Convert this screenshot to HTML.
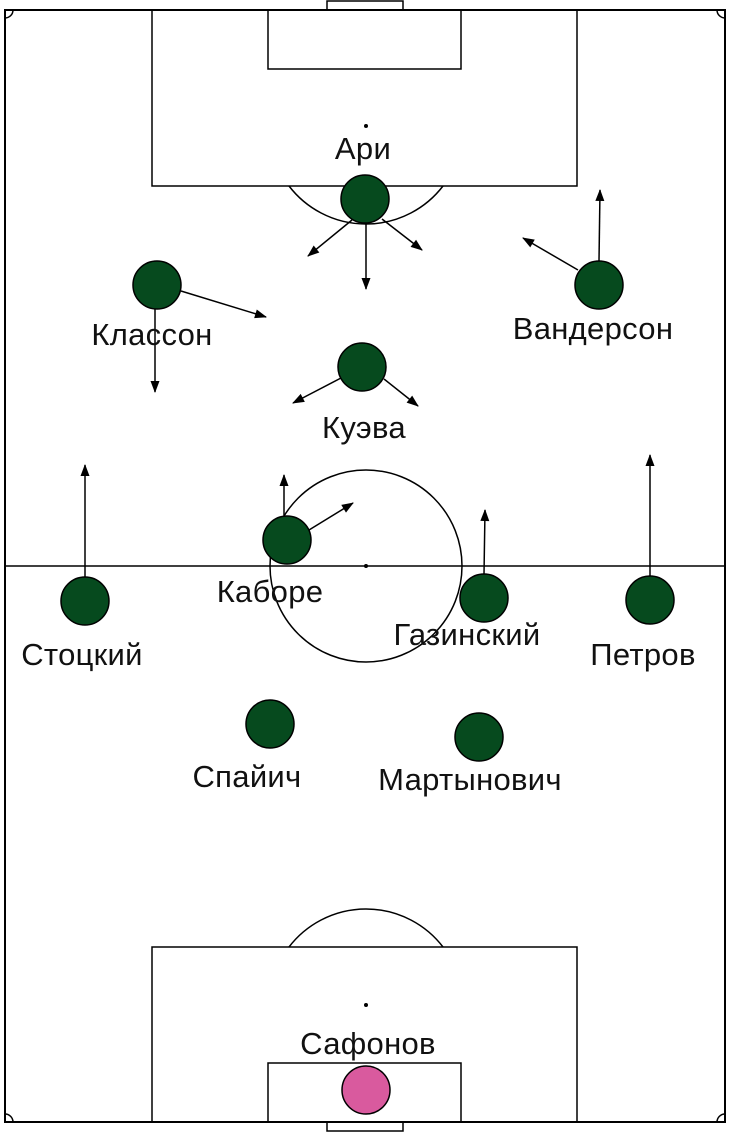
<!DOCTYPE html>
<html><head><meta charset="utf-8"><style>
html,body{margin:0;padding:0;background:#fff;}
svg{display:block;}
text{font-family:"Liberation Sans","DejaVu Sans",sans-serif;font-size:31px;fill:#111;text-anchor:middle;letter-spacing:0.3px;}
</style></head><body>
<svg width="730" height="1132" viewBox="0 0 730 1132" xmlns="http://www.w3.org/2000/svg">
<defs>
<marker id="b" viewBox="0 0 12 10" refX="11" refY="5" markerWidth="13" markerHeight="10" orient="auto" markerUnits="userSpaceOnUse"><path d="M0,0.5L12,5L0,9.5z" fill="#000"/></marker></defs>
<g fill="none" stroke="#000" stroke-width="1.5">
<rect x="5" y="10" width="720" height="1112" stroke-width="2"/>
<rect x="327" y="1" width="76" height="9"/>
<rect x="327" y="1122" width="76" height="9"/>
<rect x="152" y="10" width="425" height="176"/>
<rect x="268" y="10" width="193" height="59"/>
<rect x="152" y="947" width="425" height="175"/>
<rect x="268" y="1063" width="193" height="59"/>
<path d="M289,186 A97,97 0 0 0 443,186"/>
<path d="M289,947 A97,97 0 0 1 443,947"/>
<line x1="5" y1="566" x2="725" y2="566"/>
<circle cx="366" cy="566" r="96"/>
<path d="M5,18 A8,8 0 0 0 13,10"/><path d="M717,10 A8,8 0 0 0 725,18"/>
<path d="M5,1114 A8,8 0 0 1 13,1122"/><path d="M717,1122 A8,8 0 0 1 725,1114"/>
</g>
<circle cx="366" cy="126" r="2" fill="#000"/>
<circle cx="366" cy="1005" r="2" fill="#000"/>
<circle cx="366" cy="566" r="2" fill="#000"/>
<g stroke="#000" stroke-width="1.5" marker-end="url(#b)">
<line x1="352" y1="220" x2="308" y2="256"/>
<line x1="366" y1="224" x2="366" y2="289"/>
<line x1="382" y1="219" x2="422" y2="250"/>
<line x1="599" y1="261" x2="600" y2="190"/>
<line x1="578" y1="270" x2="523" y2="238"/>
<line x1="181" y1="291" x2="266" y2="317"/>
<line x1="155" y1="309" x2="155" y2="392"/>
<line x1="341" y1="378" x2="293" y2="403"/>
<line x1="384" y1="379" x2="418" y2="406"/>
<line x1="284" y1="516" x2="284" y2="475"/>
<line x1="309" y1="530" x2="353" y2="503"/>
<line x1="484" y1="574" x2="485" y2="510"/>
<line x1="85" y1="577" x2="85" y2="465"/>
<line x1="650" y1="576" x2="650" y2="455"/>
</g>
<g fill="#064a1e" stroke="#000" stroke-width="1.5">
<circle cx="365" cy="199" r="24"/>
<circle cx="157" cy="285" r="24"/>
<circle cx="599" cy="285" r="24"/>
<circle cx="362" cy="367" r="24"/>
<circle cx="287" cy="540" r="24"/>
<circle cx="85" cy="601" r="24"/>
<circle cx="484" cy="598" r="24"/>
<circle cx="650" cy="600" r="24"/>
<circle cx="270" cy="724" r="24"/>
<circle cx="479" cy="737" r="24"/>
<circle cx="366" cy="1090" r="24" fill="#d95a9e"/>
</g>
<text x="363" y="159">Ари</text>
<text x="152" y="345">Классон</text>
<text x="593" y="339">Вандерсон</text>
<text x="364" y="438">Куэва</text>
<text x="270" y="602">Каборе</text>
<text x="82" y="665">Стоцкий</text>
<text x="467" y="645">Газинский</text>
<text x="643" y="665">Петров</text>
<text x="247" y="787">Спайич</text>
<text x="470" y="790">Мартынович</text>
<text x="368" y="1054">Сафонов</text>
</svg>
</body></html>
